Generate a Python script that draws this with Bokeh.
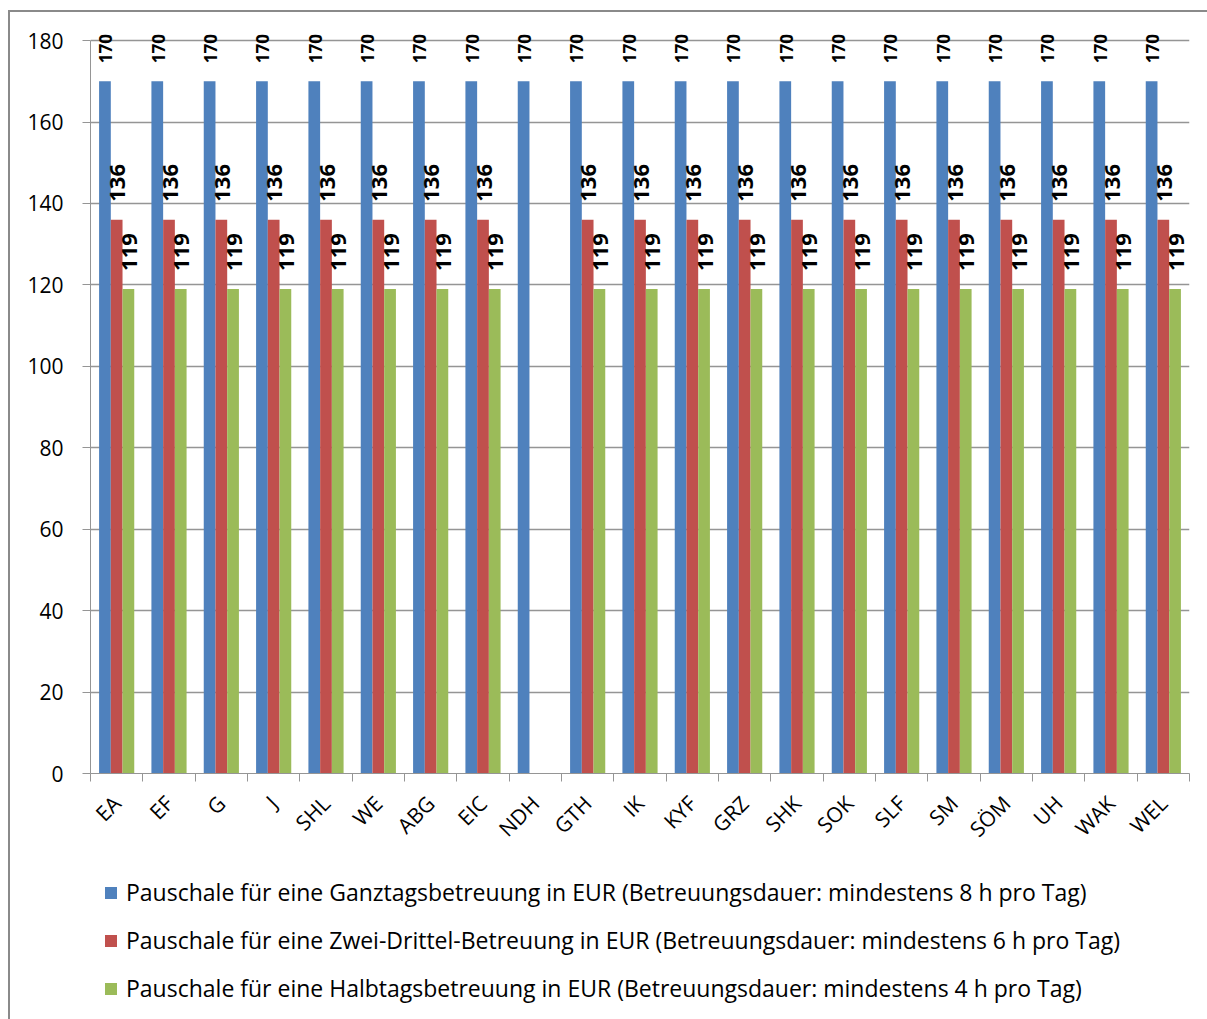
import math
from bokeh.plotting import figure
from bokeh.layouts import column
from bokeh.models import (ColumnDataSource, Range1d, FixedTicker, Legend, LegendItem)
from bokeh.core.properties import value
from bokeh.embed import file_html
from bokeh.resources import INLINE

# Landkreise / kreisfreie Städte
kreise = ["EA", "EF", "G", "J", "SHL", "WE", "ABG", "EIC", "NDH", "GTH", "IK",
          "KYF", "GRZ", "SHK", "SOK", "SLF", "SM", "SÖM", "UH", "WAK", "WEL"]

# Pauschalen in EUR (None = keine Angabe)
ganztag = [170, 170, 170, 170, 170, 170, 170, 170, 170, 170, 170,
           170, 170, 170, 170, 170, 170, 170, 170, 170, 170]
zweidrittel = [136, 136, 136, 136, 136, 136, 136, 136, None, 136, 136,
               136, 136, 136, 136, 136, 136, 136, 136, 136, 136]
halbtag = [119, 119, 119, 119, 119, 119, 119, 119, None, 119, 119,
           119, 119, 119, 119, 119, 119, 119, 119, 119, 119]

series_names = [
    "Pauschale für eine Ganztagsbetreuung in EUR (Betreuungsdauer: mindestens 8 h pro Tag)",
    "Pauschale für eine Zwei-Drittel-Betreuung in EUR (Betreuungsdauer: mindestens 6 h pro Tag)",
    "Pauschale für eine Halbtagsbetreuung in EUR (Betreuungsdauer: mindestens 4 h pro Tag)",
]
y_ticks = [0, 20, 40, 60, 80, 100, 120, 140, 160, 180]

colors = ["#4F81BD", "#C0504D", "#9BBB59"]
label_sizes = ["17px", "22px", "22px"]
FONT = "Open Sans"
GRID = "#959595"
BORDER = "#8a8a8a"

W = 1197
H_CHART, H_LEG = 848, 159

# ---- bar chart ----
# a little head room above 180 so the rotated value labels are not clipped
p = figure(width=W, height=H_CHART, output_backend="svg", toolbar_location=None,
           x_range=Range1d(-0.5, len(kreise) - 0.5), y_range=Range1d(0, 183.7),
           min_border_left=80, min_border_right=18, min_border_top=13,
           min_border_bottom=87)
p.outline_line_color = None
p.background_fill_color = "white"
p.border_fill_color = "white"

bar_w = 0.224
offsets = [-bar_w, 0.0, bar_w]
sources = []
for vals, off, col, fs in zip([ganztag, zweidrittel, halbtag], offsets,
                              colors, label_sizes):
    xs = [i + off for i, v in enumerate(vals) if v is not None]
    ys = [v for v in vals if v is not None]
    src = ColumnDataSource(dict(x=xs, top=ys, txt=[str(v) for v in ys]))
    sources.append(src)
    p.vbar(x="x", top="top", width=bar_w, bottom=0, source=src,
           fill_color=col, line_color=None)
    p.text(x="x", y="top", text="txt", source=src, angle=math.pi / 2,
           text_align="left", text_baseline="middle", y_offset=-18, x_offset=1,
           text_font=value(FONT), text_font_style="bold", text_font_size=fs,
           text_color="black")

p.yaxis.ticker = FixedTicker(ticks=y_ticks)
p.yaxis.bounds = (0, 180)
p.yaxis.axis_line_color = GRID
p.yaxis.major_tick_line_color = GRID
p.yaxis.major_tick_out = 8
p.yaxis.major_tick_in = 0
p.yaxis.minor_tick_line_color = None
p.yaxis.major_label_text_font = FONT
p.yaxis.major_label_text_font_size = "21px"
p.yaxis.major_label_text_color = "black"
p.yaxis.major_label_standoff = 19

p.xaxis.ticker = FixedTicker(ticks=list(range(len(kreise))),
                             minor_ticks=[i - 0.5 for i in range(len(kreise) + 1)])
p.xaxis.major_label_overrides = {i: k for i, k in enumerate(kreise)}
p.xaxis.major_label_orientation = math.pi / 4
p.xaxis.axis_line_color = GRID
p.xaxis.major_tick_line_color = None
p.xaxis.major_tick_out = 0
p.xaxis.major_tick_in = 0
p.xaxis.minor_tick_line_color = GRID
p.xaxis.minor_tick_out = 8
p.xaxis.minor_tick_in = 0
p.xaxis.major_label_text_font = FONT
p.xaxis.major_label_text_font_size = "21px"
p.xaxis.major_label_text_color = "black"
p.xaxis.major_label_standoff = 18

p.xgrid.grid_line_color = None
p.ygrid.ticker = FixedTicker(ticks=y_ticks)
p.ygrid.grid_line_color = GRID
p.ygrid.grid_line_width = 1.5

# ---- legend strip (same sources, bars lie outside its ranges) ----
leg = figure(width=W, height=H_LEG, output_backend="svg", toolbar_location=None,
             x_axis_type=None, y_axis_type=None, min_border=0,
             x_range=Range1d(0, 1), y_range=Range1d(500, 501))
leg.outline_line_color = None
leg.grid.visible = False
leg.background_fill_color = "white"
leg.border_fill_color = "white"

items = []
for src, col, name in zip(sources, colors, series_names):
    r = leg.vbar(x="x", top="top", width=bar_w, bottom=0, source=src,
                 fill_color=col, line_color=None)
    items.append(LegendItem(label=name, renderers=[r]))

legend = Legend(items=items, location=(13, 15), orientation="vertical",
                glyph_width=15, glyph_height=15, label_height=30, spacing=16,
                label_standoff=8, padding=0, margin=0,
                border_line_color=None, background_fill_alpha=0,
                label_text_font=FONT, label_text_font_size="23px",
                label_text_color="black")
leg.add_layout(legend, "center")

# chart area border along the top and left edge
layout = column(p, leg, spacing=0,
                styles={"margin-left": "8px", "margin-top": "10px",
                        "border-left": f"2px solid {BORDER}",
                        "border-top": f"2px solid {BORDER}"})
open("out.html", "w").write(file_html(layout, INLINE))
